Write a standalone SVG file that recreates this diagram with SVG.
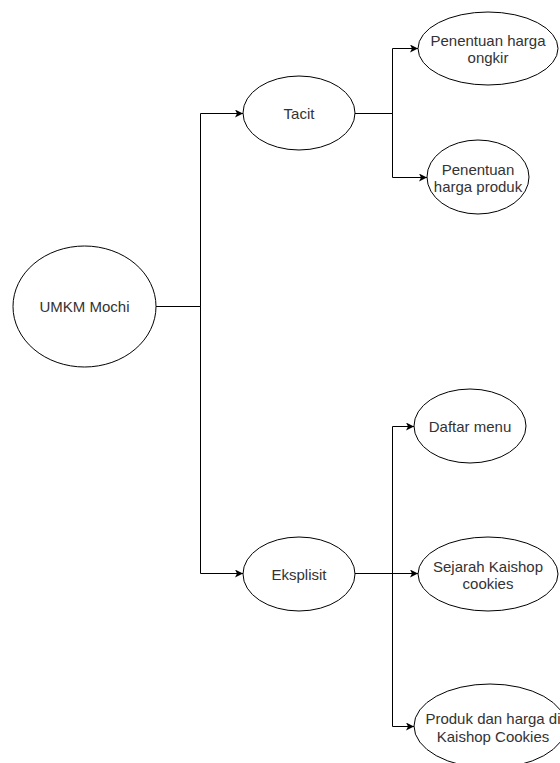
<svg xmlns="http://www.w3.org/2000/svg" width="560" height="763" viewBox="0 0 560 763">
<style>
.node ellipse{fill:#fff;stroke:#000;stroke-width:1}
.node text{font-family:"Liberation Sans",Arial,sans-serif;font-size:15px;fill:#333;text-anchor:middle}
.conn path{fill:none;stroke:#000;stroke-width:1}
</style>
<defs>
<marker id="arr" viewBox="0 0 10 10" refX="10" refY="5" markerWidth="8" markerHeight="8" markerUnits="userSpaceOnUse" orient="auto">
<path d="M0,0 L10,5 L0,10 L2.5,5 z" fill="#000"/>
</marker>
</defs>
<rect width="560" height="763" fill="#fff"/>
<g id="connectors" class="conn">
<path d="M156,306.5 H200.5 V113.5 H243" marker-end="url(#arr)"/>
<path d="M156,306.5 H200.5 V573.5 H243" marker-end="url(#arr)"/>
<path d="M355,113.5 H392.5 V48.5 H418" marker-end="url(#arr)"/>
<path d="M355,113.5 H392.5 V177.5 H427" marker-end="url(#arr)"/>
<path d="M355,573.5 H392.5 V426.5 H414" marker-end="url(#arr)"/>
<path d="M355,573.5 H418" marker-end="url(#arr)"/>
<path d="M355,573.5 H392.5 V726.5 H414" marker-end="url(#arr)"/>
</g>
<g id="umkm" class="node"><ellipse cx="84.5" cy="306.5" rx="71.5" ry="60.5"/><text x="84.5" y="312">UMKM Mochi</text></g>
<g id="tacit" class="node"><ellipse cx="299" cy="113" rx="56" ry="37"/><text x="299" y="118.5">Tacit</text></g>
<g id="ongkir" class="node"><ellipse cx="488" cy="48.5" rx="70" ry="36.5"/><text x="488" y="46">Penentuan harga</text><text x="488" y="63">ongkir</text></g>
<g id="produk" class="node"><ellipse cx="478" cy="177" rx="51" ry="37"/><text x="478" y="174.5">Penentuan</text><text x="478" y="191.5">harga produk</text></g>
<g id="eksplisit" class="node"><ellipse cx="299" cy="574" rx="56" ry="37"/><text x="299" y="579.5">Eksplisit</text></g>
<g id="daftar" class="node"><ellipse cx="470" cy="426" rx="56" ry="37"/><text x="470" y="431.5">Daftar menu</text></g>
<g id="sejarah" class="node"><ellipse cx="488" cy="574" rx="70" ry="37"/><text x="488" y="571.5">Sejarah Kaishop</text><text x="488" y="588.5">cookies</text></g>
<g id="produkdi" class="node"><ellipse cx="490" cy="726" rx="76" ry="42"/><text x="493" y="723.5">Produk dan harga di</text><text x="493" y="741.5">Kaishop Cookies</text></g>
</svg>
